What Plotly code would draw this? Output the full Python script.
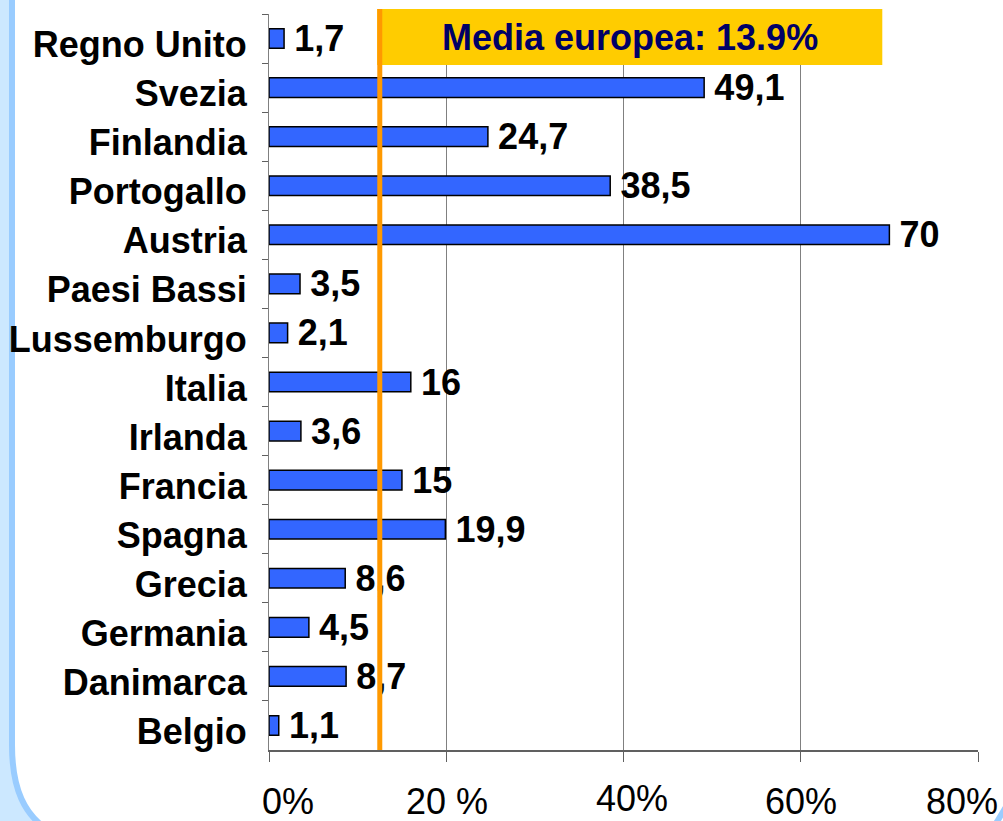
import plotly.graph_objects as go

# ---- data ----
countries = ["Regno Unito", "Svezia", "Finlandia", "Portogallo", "Austria",
             "Paesi Bassi", "Lussemburgo", "Italia", "Irlanda", "Francia",
             "Spagna", "Grecia", "Germania", "Danimarca", "Belgio"]
values = [1.7, 49.1, 24.7, 38.5, 70, 3.5, 2.1, 16, 3.6, 15, 19.9, 8.6, 4.5, 8.7, 1.1]
x_tick_vals = [0, 20, 40, 60, 80]
x_tick_text = ["0%", "20 %", "40%", "60%", "80%"]
avg_label = "Media europea: 13.9%"
avg_line_pos = 12.5   # where the orange line is drawn in the picture

# ---- layout geometry ----
W, H = 1003, 821
ML, MR, MT, MB = 269, 25, 14, 71
PW, PH = W - ML - MR, H - MT - MB

def px(x):
    return (x - ML) / PW

def py(y):
    return (H - MB - y) / PH

FONT = "Liberation Sans, Arial, sans-serif"

def fmt(v):
    s = ("%g" % v)
    return "\u2009" + s.replace(".", ",")

fig = go.Figure()
fig.add_trace(go.Bar(
    y=countries, x=values, orientation="h",
    marker=dict(color="#3366FF", line=dict(color="#000000", width=1.5)),
    width=0.4,
    text=[fmt(v) for v in values],
    textposition="outside",
    constraintext="none",
    textfont=dict(family=FONT, size=36, color="#000000", weight="bold"),
    cliponaxis=False,
    hoverinfo="skip",
))

shapes = []
# left decorative frame (light strip + blue rounded border)
shapes.append(dict(type="path", xref="paper", yref="paper", layer="below",
                   path=f"M {px(-5)},{py(-5)} L {px(12)},{py(-5)} L {px(12)},{py(745)} "
                        f"C {px(12)},{py(790)} {px(25)},{py(815)} {px(48)},{py(830)} "
                        f"L {px(-5)},{py(830)} Z",
                   fillcolor="#CCE8FF", line=dict(width=0)))
shapes.append(dict(type="path", xref="paper", yref="paper", layer="below",
                   path=f"M {px(12)},{py(-5)} L {px(12)},{py(745)} "
                        f"C {px(12)},{py(790)} {px(25)},{py(815)} {px(48)},{py(830)}",
                   line=dict(color="#99CCFF", width=6)))
# bottom-right corner fragment
shapes.append(dict(type="path", xref="paper", yref="paper", layer="below",
                   path=f"M {px(992)},{py(830)} C {px(998)},{py(820)} {px(1003)},{py(812)} {px(1010)},{py(800)}",
                   line=dict(color="#99CCFF", width=6)))
# yellow box
shapes.append(dict(type="rect", xref="x", yref="paper", layer="above",
                   x0=12.2, x1=69.2, y0=py(65), y1=py(9),
                   fillcolor="#FFCC00", line=dict(width=0)))
# orange average line
shapes.append(dict(type="line", xref="x", yref="paper", layer="above",
                   x0=avg_line_pos, x1=avg_line_pos, y0=0, y1=py(9),
                   line=dict(color="#FF9900", width=5)))

annotations = [dict(xref="x", yref="paper", x=40.7, y=py(37), text=avg_label,
                    showarrow=False, xanchor="center", yanchor="middle",
                    font=dict(family=FONT, size=36, color="#000066", weight="bold"))]
shifts = [19, 1, 8, 0, -16]
yshift = [0, 0, 3, 0, 0]
for v, t, s, ys in zip(x_tick_vals, x_tick_text, shifts, yshift):
    annotations.append(dict(xref="x", yref="paper", x=v, y=py(801), text=t,
                            showarrow=False, xanchor="center", yanchor="middle",
                            xshift=s, yshift=ys,
                            font=dict(family=FONT, size=36, color="#000000")))

fig.update_layout(
    width=W, height=H,
    margin=dict(l=ML, r=MR, t=MT, b=MB, pad=0, autoexpand=False),
    paper_bgcolor="#FFFFFF", plot_bgcolor="#FFFFFF",
    showlegend=False,
    bargap=0.6,
    shapes=shapes,
    annotations=annotations,
    xaxis=dict(range=[0, 80], tickvals=x_tick_vals, showticklabels=False,
               showgrid=True, gridcolor="#808080", gridwidth=1,
               showline=True, linecolor="#606060", linewidth=2,
               ticks="outside", ticklen=10, tickcolor="#606060", tickwidth=1,
               zeroline=False, fixedrange=True, automargin=False),
    yaxis=dict(categoryorder="array", categoryarray=countries, autorange="reversed",
               showgrid=False, showline=True, linecolor="#808080", linewidth=1,
               ticks="outside", ticklen=6, tickcolor="#606060", tickwidth=1,
               tickson="boundaries", ticklabelstandoff=14, ticklabelshift=-6,
               tickfont=dict(family=FONT, size=36, color="#000000", weight="bold"),
               zeroline=False, fixedrange=True, automargin=False),
)

fig.write_html("out.html", config={"displayModeBar": False},
               post_script="document.body.style.margin='0';document.body.style.overflow='hidden';")
